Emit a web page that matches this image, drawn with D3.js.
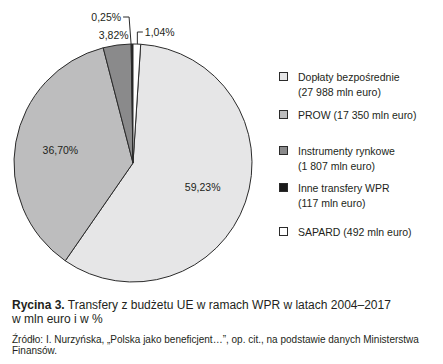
<!DOCTYPE html>
<html>
<head>
<meta charset="utf-8">
<script src="https://cdn.jsdelivr.net/npm/d3@7"></script>
<style>
  body { margin: 0; background: #fff; }
  text { font-family: "Liberation Sans", Arial, sans-serif; fill: #231f20; }
</style>
</head>
<body>
<div id="chart"></div>
<script>
// data
var categories = ["Dopłaty bezpośrednie", "PROW", "Instrumenty rynkowe", "Inne transfery WPR", "SAPARD"];
var amounts = [27988, 17350, 1807, 117, 492];           // mln euro
var percentLabels = ["59,23%", "36,70%", "3,82%", "0,25%", "1,04%"];
var legendLines = [
  ["Dopłaty bezpośrednie", "(27 988 mln euro)"],
  ["PROW (17 350 mln euro)"],
  ["Instrumenty rynkowe", "(1 807 mln euro)"],
  ["Inne transfery WPR", "(117 mln euro)"],
  ["SAPARD (492 mln euro)"]
];
var colors = ["#e6e6e7", "#bdbdbe", "#8a8a8b", "#1a1a1a", "#ffffff"];

var W = 443, H = 364;
var cx = 133, cy = 163, r = 119;

var svg = d3.select("#chart").append("svg")
  .attr("width", W).attr("height", H);

var total = d3.sum(amounts);
var offset = 2 * Math.PI * amounts[4] / total;   // SAPARD sits right of 12 o'clock

var pie = d3.pie().sort(null).value(function(d) { return d; })
  .startAngle(offset).endAngle(offset + 2 * Math.PI);
var arcs = pie(amounts);
// SAPARD drawn from 0
arcs[4].startAngle = 0; arcs[4].endAngle = offset;

var arc = d3.arc().innerRadius(0).outerRadius(r);

var g = svg.append("g").attr("transform", "translate(" + cx + "," + cy + ")");
g.selectAll("path.slice")
  .data(arcs)
  .enter().append("path")
  .attr("class", "slice")
  .attr("d", arc)
  .attr("fill", function(d, i) { return colors[i]; })
  .attr("stroke", "#2b2b2b")
  .attr("stroke-width", 1)
  .attr("stroke-linejoin", "round");

// inner labels
var labelArc = d3.arc().innerRadius(r * 0.62).outerRadius(r * 0.62);
[0, 1].forEach(function(i) {
  var c = labelArc.centroid(arcs[i]);
  g.append("text")
    .attr("x", c[0]).attr("y", c[1])
    .attr("text-anchor", "middle").attr("dy", "0.35em")
    .style("font-size", "10.5px")
    .text(percentLabels[i]);
});
// Instrumenty label just outside rim
var c2 = d3.arc().innerRadius(r + 10).outerRadius(r + 10).centroid(arcs[2]);
g.append("text")
  .attr("x", c2[0] - 2).attr("y", c2[1])
  .attr("text-anchor", "middle").attr("dy", "0.35em")
  .style("font-size", "10.5px")
  .text(percentLabels[2]);

// leader labels for small slices
function rimPoint(d) {
  var a = (d.startAngle + d.endAngle) / 2;
  return [r * Math.sin(a), -r * Math.cos(a)];
}
var p3 = rimPoint(arcs[3]);
g.append("path")
  .attr("d", "M" + (p3[0] - 1) + "," + p3[1] + "L" + (p3[0] - 3) + "," + (-r - 27) + "L" + (p3[0] - 9) + "," + (-r - 27))
  .attr("fill", "none").attr("stroke", "#2b2b2b").attr("stroke-width", 1);
g.append("text")
  .attr("x", p3[0] - 11).attr("y", -r - 27)
  .attr("text-anchor", "end").attr("dy", "0.35em")
  .style("font-size", "10.5px")
  .text(percentLabels[3]);

var p4 = rimPoint(arcs[4]);
g.append("path")
  .attr("d", "M" + (p4[0] + 0.5) + "," + p4[1] + "L" + (p4[0] + 0.5) + "," + (-r - 12) + "L" + (p4[0] + 6) + "," + (-r - 12))
  .attr("fill", "none").attr("stroke", "#2b2b2b").attr("stroke-width", 1);
g.append("text")
  .attr("x", p4[0] + 8).attr("y", -r - 12)
  .attr("dy", "0.35em")
  .style("font-size", "10.5px")
  .text(percentLabels[4]);

// legend
var legendY = [77, 115, 151, 188, 232];
var legend = svg.append("g");
legendLines.forEach(function(lines, i) {
  legend.append("rect")
    .attr("x", 279.5).attr("y", legendY[i] - 4.5)
    .attr("width", 8).attr("height", 8)
    .attr("fill", colors[i])
    .attr("stroke", "#2b2b2b").attr("stroke-width", 1);
  lines.forEach(function(t, j) {
    legend.append("text")
      .attr("x", 298).attr("y", legendY[i] + j * 15)
      .attr("dy", "0.35em")
      .style("font-size", "10.5px")
      .text(t);
  });
});

// caption
var cap = svg.append("text").attr("x", 12).attr("y", 309).style("font-size", "12px");
cap.append("tspan").style("font-weight", "bold").text("Rycina 3.");
cap.append("tspan").text(" Transfery z budżetu UE w ramach WPR w latach 2004–2017");
svg.append("text").attr("x", 12).attr("y", 323).style("font-size", "12px").text("w mln euro i w %");
svg.append("text").attr("x", 12).attr("y", 343).style("font-size", "10px")
  .text("Źródło: I. Nurzyńska, „Polska jako beneficjent…”, op. cit., na podstawie danych Ministerstwa");
svg.append("text").attr("x", 12).attr("y", 354).style("font-size", "10px").text("Finansów.");
</script>
</body>
</html>
